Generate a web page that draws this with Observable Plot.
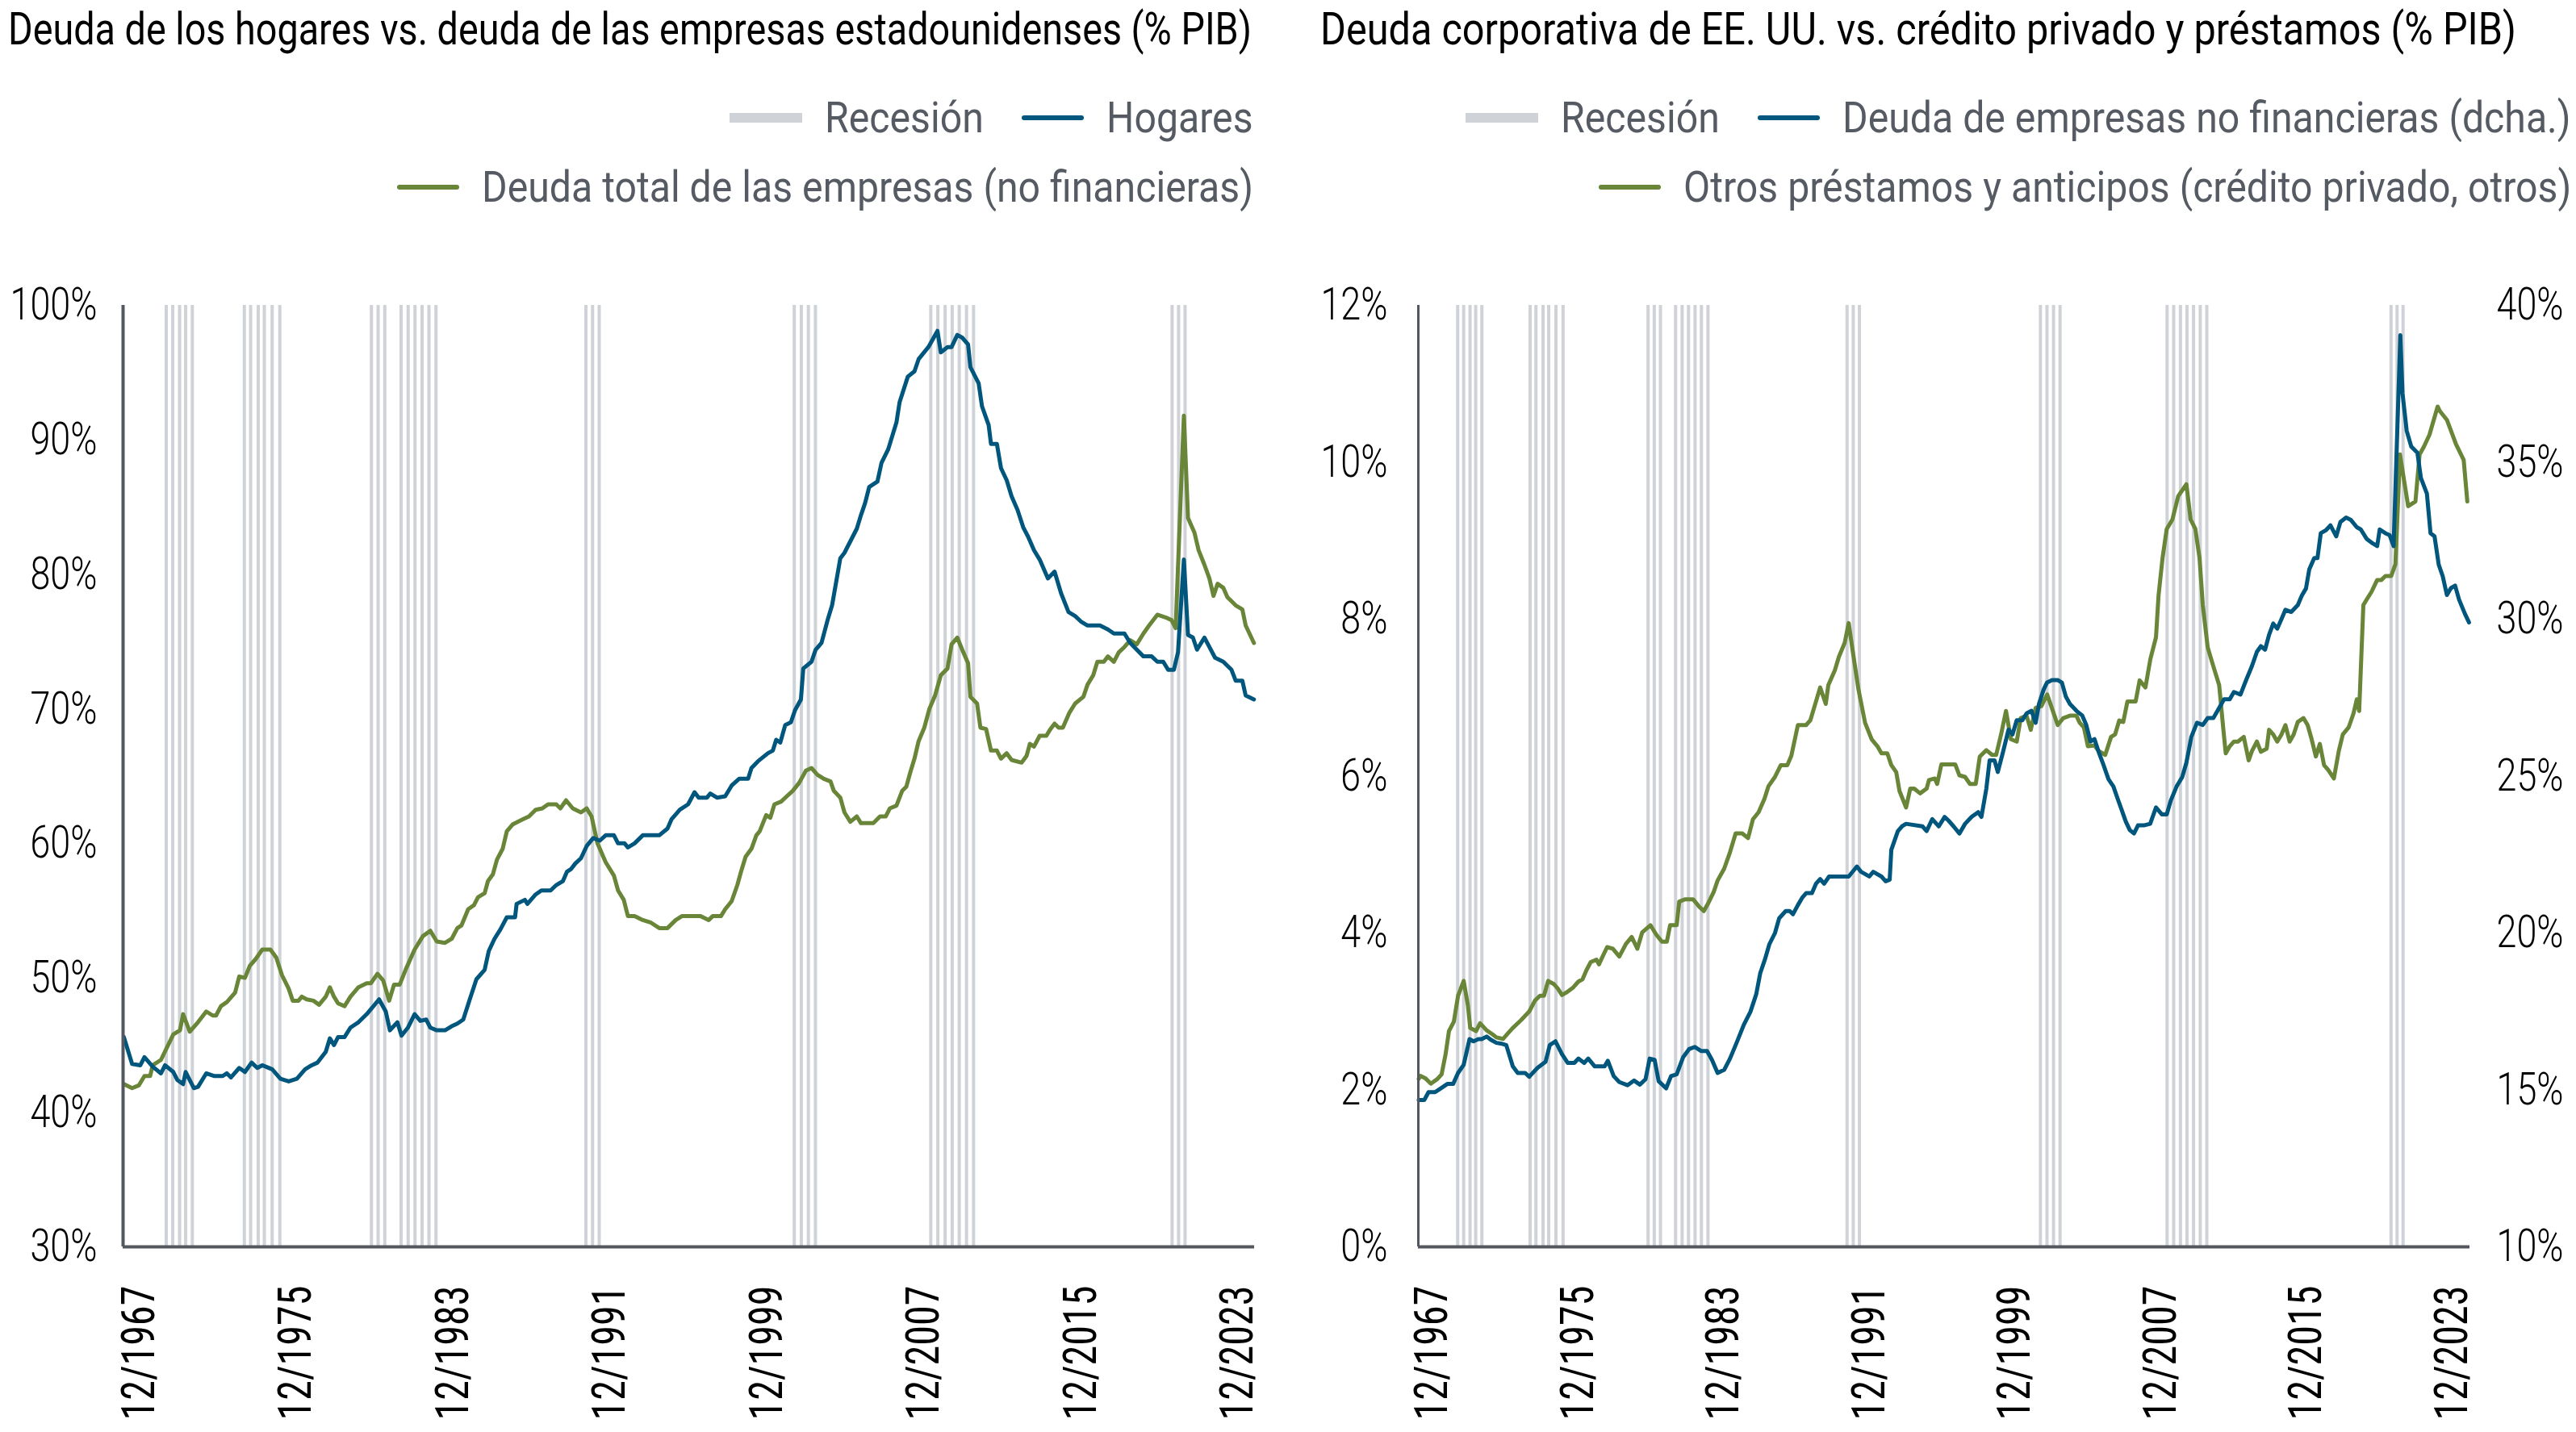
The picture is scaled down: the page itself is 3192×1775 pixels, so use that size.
<!DOCTYPE html>
<html><head><meta charset="utf-8">
<script src="https://cdn.jsdelivr.net/npm/d3@7"></script>
<script src="https://cdn.jsdelivr.net/npm/@observablehq/plot@0.6"></script>
<style>
html,body{margin:0;padding:0;background:#fff;}
#page{position:relative;width:3192px;height:1775px;overflow:hidden;background:#fff;}
.panel{position:absolute;top:0;height:1775px;}
.title{position:absolute;top:8px;white-space:nowrap;font:400 56px/56px Roboto,"Liberation Sans",sans-serif;color:#000;}
.leg{position:absolute;height:60px;white-space:nowrap;display:flex;align-items:center;justify-content:flex-end;font:400 54px/60px Roboto,"Liberation Sans",sans-serif;color:#555a63;}
.sw{flex:none;}
.sw.rec{width:90px;height:12px;background:#cfd2d6;}
.sw.ln{width:77px;height:6px;border-radius:3px;}
.plot{position:absolute;left:0;top:300px;}
</style></head>
<body>
<div id="page">
  <div class="panel" style="left:0;width:1600px">
    <div class="title" id="tL" style="left:10px"></div>
    <div class="leg" id="lL1" style="right:47px;top:116px"></div>
    <div class="leg" id="lL2" style="right:47px;top:202px"></div>
    <div class="plot" id="pL"></div>
  </div>
  <div class="panel" style="left:1600px;width:1592px">
    <div class="title" id="tR" style="left:36px"></div>
    <div class="leg" id="lR1" style="right:6px;top:116px"></div>
    <div class="leg" id="lR2" style="right:6px;top:202px"></div>
    <div class="plot" id="pR"></div>
  </div>
</div>
<script>
// ---------------- DATA ----------------
const tituloIzq = "Deuda de los hogares vs. deuda de las empresas estadounidenses (% PIB)";
const tituloDer = "Deuda corporativa de EE. UU. vs. crédito privado y préstamos (% PIB)";
const leyendaIzq = ["Recesión", "Hogares", "Deuda total de las empresas (no financieras)"];
const leyendaDer = ["Recesión", "Deuda de empresas no financieras (dcha.)", "Otros préstamos y anticipos (crédito privado, otros)"];

const xTickYears = [1967, 1975, 1983, 1991, 1999, 2007, 2015, 2023];
const yTicksIzq = [30, 40, 50, 60, 70, 80, 90, 100];
const yTicksDerL = [0, 2, 4, 6, 8, 10, 12];
const yTicksDerR = [10, 15, 20, 25, 30, 35, 40];

// recession marker dates (decimal years, as drawn)
const recesiones = [1969.34,1969.67,1970.02,1970.33,1970.67,
  1973.32,1973.64,1974.03,1974.34,1974.74,1975.13,
  1979.80,1980.14,1980.48,
  1981.31,1981.67,1982.02,1982.38,1982.73,1983.09,
  1990.73,1991.07,1991.41,
  2001.35,2001.71,2002.07,2002.43,
  2008.31,2008.67,2009.04,2009.40,2009.76,2010.13,2010.49,
  2020.61,2020.94,2021.27];

// left chart: household debt (% GDP)
const hogares = [[1967.18,45.6],[1967.60,43.6],[1968.02,43.5],[1968.23,44.1],[1968.65,43.4],[1969.07,42.9],[1969.28,43.5],[1969.70,43.0],[1969.91,42.4],[1970.20,42.1],[1970.33,43.0],[1970.75,41.8],[1970.96,41.9],[1971.38,42.9],[1971.80,42.7],[1972.22,42.7],[1972.43,42.9],[1972.64,42.6],[1973.06,43.3],[1973.35,43.0],[1973.69,43.7],[1973.98,43.3],[1974.23,43.5],[1974.74,43.2],[1975.16,42.5],[1975.58,42.3],[1976.00,42.5],[1976.42,43.2],[1976.75,43.5],[1977.05,43.7],[1977.47,44.5],[1977.68,45.5],[1977.89,45.0],[1978.10,45.6],[1978.43,45.6],[1978.73,46.3],[1979.14,46.7],[1979.56,47.3],[1980.19,48.4],[1980.53,47.5],[1980.74,46.1],[1981.12,46.7],[1981.33,45.7],[1981.66,46.3],[1982.00,47.3],[1982.29,46.8],[1982.59,46.9],[1982.80,46.3],[1983.13,46.1],[1983.55,46.1],[1983.89,46.4],[1984.18,46.6],[1984.48,46.9],[1984.81,48.4],[1985.15,49.9],[1985.57,50.6],[1985.78,52.0],[1986.07,52.9],[1986.37,53.6],[1986.70,54.5],[1987.12,54.5],[1987.20,55.5],[1987.62,55.8],[1987.75,55.5],[1988.17,56.2],[1988.46,56.5],[1988.93,56.5],[1989.22,56.9],[1989.56,57.2],[1989.77,57.9],[1989.98,58.1],[1990.19,58.5],[1990.48,58.9],[1990.77,59.8],[1991.11,60.4],[1991.44,60.2],[1991.74,60.6],[1992.16,60.6],[1992.37,60.0],[1992.70,60.0],[1992.87,59.7],[1993.21,60.0],[1993.63,60.6],[1994.47,60.6],[1994.89,61.1],[1995.10,61.8],[1995.52,62.5],[1995.94,62.9],[1996.27,63.8],[1996.48,63.4],[1996.90,63.4],[1997.07,63.7],[1997.41,63.4],[1997.83,63.5],[1998.16,64.3],[1998.54,64.8],[1999.00,64.8],[1999.17,65.6],[1999.50,66.1],[2000.01,66.7],[2000.26,66.9],[2000.43,67.7],[2000.64,67.5],[2000.89,68.8],[2001.18,69.0],[2001.39,69.9],[2001.69,70.7],[2001.81,73.0],[2002.23,73.5],[2002.44,74.4],[2002.74,74.9],[2003.07,76.7],[2003.28,77.7],[2003.70,81.2],[2003.91,81.6],[2004.54,83.4],[2004.75,84.4],[2004.96,85.3],[2005.17,86.5],[2005.59,86.9],[2005.80,88.3],[2006.14,89.3],[2006.56,91.3],[2006.72,92.8],[2007.14,94.7],[2007.48,95.1],[2007.69,96.0],[2008.19,96.9],[2008.65,98.1],[2008.82,96.5],[2009.16,96.9],[2009.37,96.9],[2009.66,97.8],[2009.91,97.6],[2010.21,97.1],[2010.33,95.4],[2010.75,94.2],[2010.92,92.5],[2011.26,91.1],[2011.38,89.7],[2011.68,89.7],[2011.89,87.9],[2012.18,87.0],[2012.43,85.8],[2012.73,84.8],[2013.02,83.5],[2013.27,82.8],[2013.57,81.8],[2013.86,81.1],[2014.28,79.7],[2014.62,80.2],[2014.95,78.6],[2015.33,77.2],[2015.67,76.9],[2015.96,76.5],[2016.30,76.2],[2016.93,76.2],[2017.34,75.9],[2017.64,75.6],[2018.18,75.6],[2018.48,74.9],[2018.81,74.4],[2019.15,73.9],[2019.57,73.9],[2019.86,73.5],[2020.16,73.5],[2020.41,72.9],[2020.70,72.9],[2020.91,74.2],[2021.21,81.1],[2021.42,75.5],[2021.67,75.3],[2021.88,74.4],[2022.26,75.3],[2022.51,74.6],[2022.80,73.8],[2023.22,73.5],[2023.64,72.9],[2023.85,72.1],[2024.19,72.1],[2024.36,71.0],[2024.78,70.7]];

// left chart: total nonfinancial business debt (% GDP)
const empresasTotal = [[1967.18,42.1],[1967.60,41.8],[1967.94,42.0],[1968.23,42.7],[1968.52,42.7],[1968.65,43.5],[1969.07,43.9],[1969.70,45.8],[1970.04,46.1],[1970.20,47.3],[1970.54,46.0],[1970.96,46.7],[1971.38,47.5],[1971.71,47.2],[1971.88,47.2],[1972.13,47.9],[1972.43,48.2],[1972.85,48.9],[1973.06,50.1],[1973.35,50.0],[1973.60,50.9],[1973.90,51.4],[1974.23,52.1],[1974.65,52.1],[1974.95,51.5],[1975.24,50.2],[1975.58,49.2],[1975.79,48.3],[1976.08,48.3],[1976.25,48.6],[1976.50,48.4],[1976.84,48.3],[1977.13,48.0],[1977.47,48.6],[1977.68,49.3],[1977.89,48.6],[1978.10,48.1],[1978.43,47.9],[1978.73,48.6],[1979.14,49.3],[1979.56,49.6],[1979.77,49.6],[1980.11,50.3],[1980.40,49.8],[1980.70,48.3],[1980.95,49.5],[1981.24,49.5],[1981.54,50.6],[1982.00,52.1],[1982.42,53.1],[1982.80,53.5],[1983.13,52.7],[1983.55,52.6],[1983.89,52.9],[1984.18,53.7],[1984.39,53.9],[1984.73,55.1],[1985.02,55.4],[1985.23,56.0],[1985.57,56.3],[1985.74,57.2],[1985.99,57.7],[1986.20,58.8],[1986.49,59.6],[1986.70,60.9],[1986.99,61.4],[1987.25,61.6],[1987.54,61.8],[1987.83,62.0],[1988.17,62.5],[1988.51,62.6],[1988.80,62.9],[1989.22,62.9],[1989.43,62.6],[1989.72,63.2],[1990.06,62.6],[1990.48,62.3],[1990.77,62.6],[1991.02,62.0],[1991.32,60.0],[1991.74,58.6],[1992.16,57.6],[1992.37,56.5],[1992.66,55.8],[1992.87,54.6],[1993.21,54.6],[1993.63,54.3],[1994.05,54.1],[1994.47,53.7],[1994.89,53.7],[1995.31,54.3],[1995.64,54.6],[1996.57,54.6],[1996.99,54.3],[1997.20,54.6],[1997.62,54.6],[1997.83,55.1],[1998.16,55.7],[1998.45,56.9],[1998.66,58.0],[1998.87,59.0],[1999.17,59.6],[1999.42,60.6],[1999.59,60.9],[1999.92,62.1],[2000.13,61.9],[2000.34,62.9],[2000.68,63.1],[2000.97,63.5],[2001.27,63.9],[2001.60,64.5],[2001.94,65.4],[2002.23,65.6],[2002.53,65.1],[2002.86,64.8],[2003.20,64.6],[2003.37,63.9],[2003.70,63.4],[2003.91,62.3],[2004.21,61.6],[2004.54,62.0],[2004.75,61.5],[2005.38,61.5],[2005.72,62.0],[2006.01,62.0],[2006.22,62.6],[2006.56,62.8],[2006.85,63.9],[2007.06,64.2],[2007.27,65.3],[2007.48,66.3],[2007.69,67.6],[2007.98,68.6],[2008.24,70.0],[2008.53,71.0],[2008.82,72.5],[2009.16,73.0],[2009.37,74.8],[2009.66,75.3],[2009.91,74.4],[2010.21,73.4],[2010.33,70.9],[2010.67,70.4],[2010.84,68.6],[2011.13,68.5],[2011.38,66.9],[2011.68,66.9],[2011.89,66.3],[2012.18,66.7],[2012.43,66.2],[2012.94,66.0],[2013.19,66.5],[2013.36,67.4],[2013.57,67.2],[2013.86,68.0],[2014.20,68.0],[2014.41,68.5],[2014.62,68.9],[2014.83,68.6],[2015.04,68.6],[2015.37,69.7],[2015.67,70.4],[2016.09,70.9],[2016.30,71.8],[2016.59,72.5],[2016.80,73.5],[2017.13,73.5],[2017.34,73.9],[2017.64,73.5],[2017.89,74.2],[2018.18,74.6],[2018.48,75.1],[2018.81,74.8],[2019.15,75.6],[2019.44,76.2],[2019.86,77.0],[2020.28,76.8],[2020.58,76.6],[2020.79,76.0],[2021.21,91.8],[2021.42,84.2],[2021.75,83.1],[2021.96,81.8],[2022.26,80.7],[2022.51,79.7],[2022.72,78.4],[2022.93,79.3],[2023.22,79.0],[2023.43,78.3],[2023.85,77.7],[2024.19,77.4],[2024.36,76.2],[2024.78,74.9]];

// right chart: other loans and advances (% GDP, left axis)
const otrosPrestamos = [[1967.20,2.14],[1967.29,2.18],[1967.56,2.15],[1967.87,2.08],[1968.23,2.14],[1968.46,2.20],[1968.68,2.46],[1968.86,2.75],[1969.13,2.87],[1969.36,3.20],[1969.67,3.39],[1969.90,3.08],[1970.03,2.79],[1970.35,2.75],[1970.57,2.85],[1970.93,2.76],[1971.25,2.71],[1971.47,2.67],[1971.83,2.65],[1972.06,2.71],[1972.37,2.79],[1972.82,2.89],[1973.27,3.00],[1973.59,3.14],[1973.86,3.20],[1974.08,3.20],[1974.31,3.39],[1974.62,3.35],[1974.85,3.29],[1975.07,3.21],[1975.30,3.24],[1975.66,3.30],[1975.97,3.38],[1976.20,3.41],[1976.42,3.53],[1976.65,3.63],[1976.96,3.66],[1977.10,3.60],[1977.32,3.71],[1977.55,3.82],[1977.86,3.80],[1978.22,3.70],[1978.58,3.86],[1978.90,3.95],[1979.21,3.80],[1979.48,4.01],[1979.93,4.10],[1980.25,3.98],[1980.56,3.89],[1980.83,3.89],[1981.01,4.10],[1981.37,4.10],[1981.51,4.40],[1981.82,4.43],[1982.27,4.43],[1982.59,4.34],[1982.86,4.28],[1983.08,4.37],[1983.40,4.52],[1983.62,4.67],[1983.98,4.82],[1984.30,5.03],[1984.61,5.27],[1984.97,5.27],[1985.29,5.21],[1985.56,5.45],[1985.87,5.54],[1986.19,5.71],[1986.41,5.87],[1986.77,5.99],[1987.09,6.14],[1987.45,6.14],[1987.67,6.26],[1988.03,6.65],[1988.48,6.65],[1988.71,6.71],[1989.02,6.95],[1989.25,7.13],[1989.56,6.92],[1989.70,7.16],[1990.06,7.35],[1990.28,7.52],[1990.60,7.70],[1990.82,7.95],[1991.05,7.58],[1991.36,7.10],[1991.72,6.68],[1992.08,6.47],[1992.40,6.38],[1992.62,6.29],[1992.94,6.29],[1993.16,6.14],[1993.43,6.05],[1993.61,5.81],[1993.97,5.60],[1994.20,5.84],[1994.42,5.84],[1994.74,5.78],[1995.10,5.84],[1995.23,5.95],[1995.55,5.97],[1995.68,5.90],[1995.91,6.15],[1996.67,6.15],[1996.90,6.01],[1997.21,5.99],[1997.48,5.90],[1997.80,5.90],[1998.02,6.25],[1998.38,6.33],[1998.70,6.27],[1998.92,6.27],[1999.19,6.53],[1999.46,6.83],[1999.73,6.47],[2000.05,6.44],[2000.27,6.74],[2000.59,6.77],[2000.82,6.59],[2001.09,6.87],[2001.40,6.89],[2001.72,7.04],[2001.99,6.86],[2002.30,6.65],[2002.61,6.74],[2002.97,6.77],[2003.33,6.77],[2003.51,6.68],[2003.74,6.62],[2003.96,6.38],[2004.32,6.39],[2004.55,6.32],[2004.91,6.27],[2005.23,6.50],[2005.45,6.53],[2005.68,6.71],[2005.90,6.69],[2006.13,6.95],[2006.58,6.95],[2006.80,7.22],[2007.12,7.13],[2007.39,7.49],[2007.70,7.77],[2007.84,8.30],[2008.06,8.78],[2008.29,9.15],[2008.60,9.27],[2008.92,9.57],[2009.37,9.72],[2009.60,9.27],[2009.86,9.15],[2010.09,8.78],[2010.27,8.18],[2010.54,7.64],[2010.85,7.40],[2011.17,7.16],[2011.39,6.62],[2011.53,6.29],[2011.75,6.38],[2011.98,6.44],[2012.20,6.44],[2012.52,6.50],[2012.79,6.20],[2012.97,6.32],[2013.24,6.44],[2013.46,6.31],[2013.78,6.35],[2013.91,6.59],[2014.14,6.53],[2014.36,6.44],[2014.59,6.53],[2014.81,6.65],[2015.04,6.44],[2015.26,6.53],[2015.49,6.69],[2015.80,6.74],[2016.03,6.65],[2016.25,6.47],[2016.48,6.25],[2016.70,6.41],[2016.93,6.14],[2017.15,6.08],[2017.47,5.97],[2017.74,6.32],[2017.96,6.53],[2018.28,6.62],[2018.55,6.80],[2018.73,6.98],[2018.86,6.83],[2019.09,8.18],[2019.27,8.25],[2019.54,8.35],[2019.85,8.50],[2020.08,8.50],[2020.30,8.55],[2020.62,8.55],[2020.85,8.70],[2021.10,10.10],[2021.55,9.44],[2021.95,9.50],[2022.18,10.10],[2022.42,10.20],[2022.72,10.35],[2023.17,10.71],[2023.30,10.65],[2023.68,10.54],[2024.18,10.23],[2024.60,10.03],[2024.80,9.50]];

// right chart: nonfinancial business debt (% GDP, right axis)
const deudaEmpresas = [[1967.20,14.68],[1967.51,14.68],[1967.74,14.93],[1968.10,14.93],[1968.41,15.05],[1968.77,15.19],[1969.09,15.19],[1969.36,15.54],[1969.67,15.80],[1969.99,16.62],[1970.21,16.55],[1970.48,16.62],[1970.66,16.62],[1970.93,16.70],[1971.16,16.60],[1971.47,16.50],[1971.70,16.48],[1972.01,16.43],[1972.37,15.75],[1972.64,15.54],[1973.05,15.54],[1973.27,15.42],[1973.72,15.70],[1974.17,15.90],[1974.40,16.43],[1974.71,16.55],[1975.07,16.14],[1975.39,15.86],[1975.75,15.86],[1975.97,16.00],[1976.29,15.86],[1976.51,16.00],[1976.87,15.75],[1977.41,15.75],[1977.59,15.93],[1977.91,15.44],[1978.22,15.25],[1978.67,15.15],[1979.03,15.30],[1979.35,15.17],[1979.66,15.34],[1979.89,16.00],[1980.16,15.96],[1980.38,15.28],[1980.79,15.05],[1981.06,15.44],[1981.37,15.50],[1981.73,16.05],[1982.05,16.30],[1982.36,16.37],[1982.72,16.24],[1983.04,16.24],[1983.31,15.96],[1983.62,15.54],[1983.98,15.64],[1984.30,16.00],[1984.66,16.50],[1985.06,17.08],[1985.42,17.49],[1985.74,18.05],[1985.96,18.72],[1986.23,19.18],[1986.46,19.64],[1986.77,20.00],[1987.00,20.47],[1987.36,20.70],[1987.58,20.70],[1987.76,20.60],[1988.03,20.89],[1988.26,21.12],[1988.48,21.27],[1988.80,21.27],[1989.02,21.57],[1989.25,21.72],[1989.47,21.57],[1989.74,21.80],[1990.82,21.80],[1991.27,22.12],[1991.50,21.95],[1991.72,21.88],[1991.95,21.80],[1992.17,21.95],[1992.62,21.80],[1992.85,21.65],[1993.07,21.70],[1993.16,22.65],[1993.52,23.25],[1993.75,23.40],[1993.97,23.48],[1994.87,23.40],[1995.10,23.25],[1995.41,23.63],[1995.64,23.48],[1995.77,23.40],[1996.09,23.70],[1996.31,23.58],[1996.58,23.40],[1996.90,23.17],[1997.21,23.48],[1997.57,23.70],[1997.93,23.85],[1998.11,23.70],[1998.38,24.60],[1998.56,25.50],[1998.83,25.50],[1999.01,25.13],[1999.28,25.73],[1999.60,26.48],[1999.82,26.33],[2000.05,26.78],[2000.36,26.78],[2000.59,27.00],[2000.86,27.08],[2001.09,26.70],[2001.27,27.30],[2001.53,27.76],[2001.71,27.98],[2001.99,28.06],[2002.30,28.06],[2002.53,27.98],[2002.75,27.53],[2002.97,27.30],[2003.33,27.08],[2003.65,26.93],[2003.87,26.63],[2004.10,26.10],[2004.32,26.18],[2004.55,25.77],[2004.77,25.43],[2005.09,24.90],[2005.36,24.67],[2005.58,24.30],[2005.81,23.93],[2006.04,23.55],[2006.26,23.28],[2006.49,23.17],[2006.71,23.43],[2007.03,23.43],[2007.38,23.48],[2007.70,24.00],[2008.02,23.78],[2008.29,23.78],[2008.51,24.22],[2008.83,24.67],[2009.14,24.97],[2009.37,25.43],[2009.64,26.25],[2009.95,26.70],[2010.27,26.63],[2010.54,26.85],[2010.85,26.85],[2011.08,27.08],[2011.44,27.45],[2011.75,27.45],[2011.98,27.68],[2012.34,27.60],[2012.65,28.06],[2012.97,28.51],[2013.24,28.96],[2013.46,29.14],[2013.69,29.03],[2013.91,29.50],[2014.14,29.86],[2014.36,29.70],[2014.59,30.00],[2014.81,30.30],[2015.13,30.23],[2015.49,30.45],[2015.71,30.75],[2015.94,30.98],[2016.12,31.59],[2016.39,31.95],[2016.57,31.95],[2016.75,32.74],[2017.02,32.83],[2017.28,32.99],[2017.60,32.64],[2017.83,33.10],[2018.14,33.24],[2018.41,33.16],[2018.73,32.93],[2018.95,32.86],[2019.27,32.56],[2019.54,32.44],[2019.85,32.33],[2019.99,32.86],[2020.30,32.74],[2020.53,32.68],[2020.75,32.33],[2021.12,39.05],[2021.24,37.20],[2021.47,36.00],[2021.72,35.50],[2022.06,35.30],[2022.25,34.50],[2022.58,34.00],[2022.78,32.74],[2023.00,32.64],[2023.23,31.74],[2023.45,31.37],[2023.68,30.77],[2023.90,30.99],[2024.13,31.07],[2024.35,30.62],[2024.67,30.17],[2024.89,29.90]];

// ---------------- STYLE ----------------
const BLUE = "#00567c", GREEN = "#688538", REC = "#cfd2d6", AXIS = "#53575f";
const SANS = "Roboto, 'Liberation Sans', sans-serif";
const NARROW = "'Liberation Sans Narrow', 'Roboto Condensed', 'Liberation Sans', sans-serif";

const yd = t => { const y = Math.floor(t); const s = Date.UTC(y, 0, 1), e = Date.UTC(y + 1, 0, 1); return new Date(s + (t - y) * (e - s)); };
const xTicks = xTickYears.map(y => yd(y + 0.953));
const xFmt = d => "12/" + d.getUTCFullYear();

// measure fonts so text gets the condensed width of the original
const ctx = document.createElement("canvas").getContext("2d");
const textW = (s, font) => { ctx.font = font; return ctx.measureText(s).width; };
const clamp = v => Math.max(0.6, Math.min(1.2, v));
const sxTitleL = clamp(1541 / textW(tituloIzq, `400 56px ${SANS}`));
const sxTitleR = clamp(1482 / textW(tituloDer, `400 56px ${SANS}`));
const sxLeg = clamp(956 / textW(leyendaIzq[2], `400 54px ${SANS}`));
const sxY = clamp(108 / textW("100%", `300 56px ${SANS}`));
const sxX = clamp(167 / textW("12/1967", `400 58px ${NARROW}`));

function condense(el, sx) {
  el.style.display = "inline-block";
  el.style.transformOrigin = "0 50%";
  el.style.transform = `scaleX(${sx})`;
  el.style.marginRight = `${-el.offsetWidth * (1 - sx)}px`;
}
function squeezeSvgText(svg, label, sx) {
  svg.querySelectorAll(`g[aria-label="${label}"] text`).forEach(t => {
    const tr = t.getAttribute("transform");
    if (tr) t.setAttribute("transform", tr + ` scale(${sx},1)`);
    else {
      const x = +t.getAttribute("x") || 0, y = +t.getAttribute("y") || 0;
      t.setAttribute("transform", `translate(${x},${y}) scale(${sx},1) translate(${-x},${-y})`);
    }
  });
}

// ---------------- TITLES & LEGENDS ----------------
function title(id, txt, sx) { const el = document.getElementById(id); el.textContent = txt; condense(el, sx); }
function legend(id, items) {
  const box = document.getElementById(id);
  items.forEach(([kind, color, txt], i) => {
    const sw = document.createElement("div");
    sw.className = "sw " + kind;
    if (color) sw.style.background = color;
    sw.style.marginRight = "28px";
    if (i > 0) sw.style.marginLeft = "48px";
    const sp = document.createElement("span");
    sp.textContent = txt;
    box.appendChild(sw); box.appendChild(sp);
    condense(sp, sxLeg);
  });
}
title("tL", tituloIzq, sxTitleL);
title("tR", tituloDer, sxTitleR);
legend("lL1", [["rec", null, leyendaIzq[0]], ["ln", BLUE, leyendaIzq[1]]]);
legend("lL2", [["ln", GREEN, leyendaIzq[2]]]);
legend("lR1", [["rec", null, leyendaDer[0]], ["ln", BLUE, leyendaDer[1]]]);
legend("lR2", [["ln", GREEN, leyendaDer[2]]]);

// ---------------- LEFT CHART ----------------
const lineOpts = (color, yf) => ({x: d => yd(d[0]), y: yf, stroke: color, strokeWidth: 5, strokeLinejoin: "round", strokeLinecap: "round"});
{
  const x0 = yd(1967.14), x1 = yd(2024.81);
  const svg = Plot.plot({
    width: 1600, height: 1475, marginTop: 78, marginBottom: 230, marginLeft: 152, marginRight: 46,
    style: {background: "transparent", color: "#000", fontFamily: SANS, overflow: "visible"},
    x: {type: "utc", domain: [x0, x1]},
    y: {domain: [30, 100]},
    marks: [
      Plot.ruleX(recesiones, {x: yd, y1: 30, y2: 100, stroke: REC, strokeWidth: 4}),
      Plot.line(empresasTotal, lineOpts(GREEN, d => d[1])),
      Plot.line(hogares, lineOpts(BLUE, d => d[1])),
      Plot.ruleX([x0], {y1: 30, y2: 100, stroke: AXIS, strokeWidth: 4}),
      Plot.ruleY([30], {stroke: AXIS, strokeWidth: 4}),
      Plot.axisY(yTicksIzq, {tickSize: 0, tickPadding: 32, tickFormat: d => d + "%", fontSize: 56, fontWeight: 300, fontFamily: SANS, label: null}),
      Plot.axisX(xTicks, {tickSize: 0, tickPadding: 48, tickRotate: -90, tickFormat: xFmt, fontSize: 58, fontFamily: NARROW, label: null})
    ]
  });
  document.getElementById("pL").appendChild(svg);
  squeezeSvgText(svg, "y-axis tick label", sxY);
  squeezeSvgText(svg, "x-axis tick label", sxX);
}

// ---------------- RIGHT CHART ----------------
{
  const toL = v => (v - 10) / 2.5;   // right-axis % -> left-axis position
  const x0 = yd(1967.18), x1 = yd(2024.94);
  const svg = Plot.plot({
    width: 1592, height: 1475, marginTop: 78, marginBottom: 230, marginLeft: 157, marginRight: 132,
    style: {background: "transparent", color: "#000", fontFamily: SANS, overflow: "visible"},
    x: {type: "utc", domain: [x0, x1]},
    y: {domain: [0, 12]},
    marks: [
      Plot.ruleX(recesiones, {x: yd, y1: 0, y2: 12, stroke: REC, strokeWidth: 4}),
      Plot.line(otrosPrestamos, lineOpts(GREEN, d => d[1])),
      Plot.line(deudaEmpresas, lineOpts(BLUE, d => toL(d[1]))),
      Plot.ruleX([x0], {y1: 0, y2: 12, stroke: AXIS, strokeWidth: 3}),
      Plot.ruleY([0], {stroke: AXIS, strokeWidth: 4}),
      Plot.axisY(yTicksDerL, {anchor: "left", tickSize: 0, tickPadding: 38, tickFormat: d => d + "%", fontSize: 56, fontWeight: 300, fontFamily: SANS, label: null}),
      Plot.axisY(yTicksDerR.map(toL), {anchor: "right", tickSize: 0, tickPadding: 33, tickFormat: d => Math.round(10 + d * 2.5) + "%", fontSize: 56, fontWeight: 300, fontFamily: SANS, label: null}),
      Plot.axisX(xTicks, {tickSize: 0, tickPadding: 48, tickRotate: -90, tickFormat: xFmt, fontSize: 58, fontFamily: NARROW, label: null})
    ]
  });
  document.getElementById("pR").appendChild(svg);
  squeezeSvgText(svg, "y-axis tick label", sxY);
  squeezeSvgText(svg, "x-axis tick label", sxX);
}
</script>
</body></html>
